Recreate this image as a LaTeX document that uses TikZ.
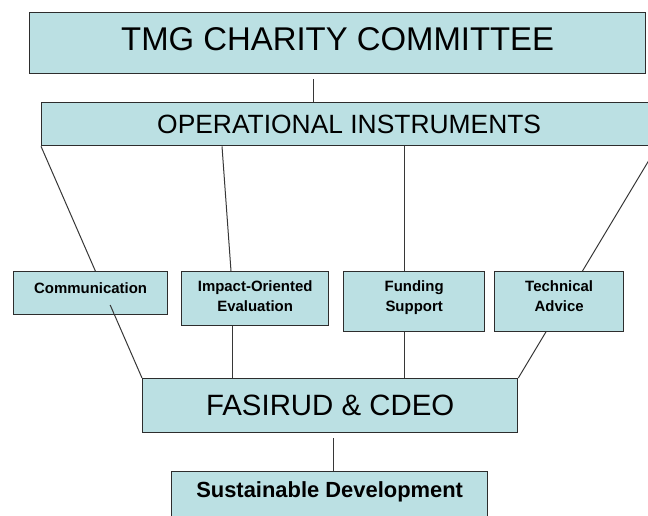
\documentclass[tikz,border=0pt]{standalone}
\usepackage{fontspec}
\setmainfont{Liberation Sans}
\usetikzlibrary{calc,backgrounds}
\definecolor{boxfill}{RGB}{187,224,227}
\definecolor{boxline}{RGB}{45,45,45}
\definecolor{connline}{RGB}{55,55,55}
\newcommand{\lift}[2]{\raisebox{#1}[\height][\depth]{#2}}
\begin{document}
\begin{tikzpicture}[x=1bp,y=-1bp,
  box/.style={draw=boxline, fill=boxfill, line width=1.3bp, anchor=north west,
    inner sep=0pt, align=center},
  conn/.style={draw=connline, line width=1bp},
  bigfont/.style={font=\fontsize{33}{38}\selectfont},
  midfont/.style={font=\fontsize{26.5}{30}\selectfont},
  fasfont/.style={font=\fontsize{29.5}{32}\selectfont},
  smallfont/.style={font=\bfseries\fontsize{15}{20}\selectfont},
  sustfont/.style={font=\bfseries\fontsize{22}{24}\selectfont}]
\useasboundingbox (0,0) rectangle (648,516);
\clip (0,0) rectangle (648,516);

\node[box, bigfont, minimum width=616bp, minimum height=61bp] (tmg) at (29,12) {\lift{4bp}{TMG CHARITY COMMITTEE}};
\node[box, midfont, minimum width=615bp, minimum height=43bp] (oi) at (41,102) {OPERATIONAL INSTRUMENTS};
\node[box, smallfont, minimum width=154bp, minimum height=43bp] (comm) at (13,271) {\lift{5bp}{Communication}};
\node[box, smallfont, minimum width=147bp, minimum height=54bp] (impact) at (181,271) {\lift{1bp}{\begin{tabular}{@{}c@{}}Impact-Oriented\\Evaluation\end{tabular}}};
\node[box, smallfont, minimum width=141bp, minimum height=60bp] (fund) at (343,271) {\lift{4bp}{\begin{tabular}{@{}c@{}}Funding\\Support\end{tabular}}};
\node[box, smallfont, minimum width=129bp, minimum height=60bp] (tech) at (494,271) {\lift{4bp}{\begin{tabular}{@{}c@{}}Technical\\Advice\end{tabular}}};
\node[box, fasfont, minimum width=375bp, minimum height=54bp] (fas) at (142,378) {FASIRUD \& CDEO};
\node[box, sustfont, minimum width=316bp, minimum height=48bp] (sust) at (171,471) {\lift{4bp}{Sustainable Development}};

\begin{pgfonlayer}{background}
  \draw[conn] (oi.south west) -- (fas.north west);
  \draw[conn] (oi.south east) -- (fas.north east);
\end{pgfonlayer}

\coordinate (c1) at ($(oi.south west)!0.685!(fas.north west)$);
\coordinate (c2) at ($(oi.south west)!0.723!(fas.north west)$);
\draw[conn] (c1) -- (c2);

\draw[conn, shorten <=5bp] (tmg.south -| 313,0) -- (oi.north -| 313,0);
\draw[conn] ($(oi.south west)+(181,0)$) -- ($(impact.north west)+(50,0)$);
\draw[conn] ($(impact.south west)+(51,0)$) -- ($(fas.north west)+(90,0)$);
\draw[conn] (oi.south -| 404,0) -- (fund.north -| 404,0);
\draw[conn] (fund.south -| 404,0) -- (fas.north -| 404,0);
\draw[conn, shorten <=5bp] (fas.south -| 333,0) -- (sust.north -| 333,0);
\end{tikzpicture}
\end{document}
